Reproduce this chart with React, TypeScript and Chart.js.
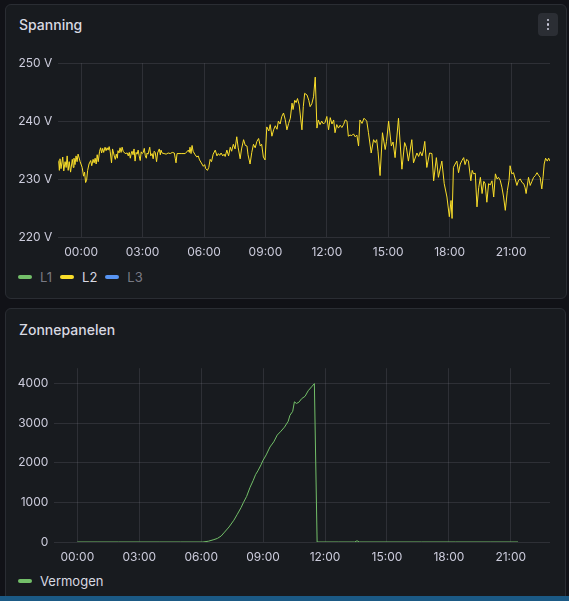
import { useEffect, useRef } from 'react';
import Chart from 'chart.js/auto';

// time axis: minutes relative to midnight, last 24h window
const rangeStart = -67;
const rangeEnd = 1374;
const hourTicks = [0, 180, 360, 540, 720, 900, 1080, 1260];

const voltTicks = [220, 230, 240, 250];
const wattTicks = [0, 1000, 2000, 3000, 4000];

// Spanning L2 (V)
const voltMinutes = [
  -67, -64, -62, -59, -54, -51, -47, -44, -41, -38,
  -35, -31, -26, -23, -21, -18, -15, -12, -9, -3,
  3, 7, 10, 13, 16, 19, 23, 28, 31, 35,
  38, 41, 44, 47, 50, 54, 57, 60, 63, 66,
  70, 73, 76, 79, 82, 85, 89, 92, 97, 100,
  103, 106, 108, 111, 114, 117, 120, 123, 129, 135,
  138, 141, 144, 147, 149, 152, 155, 158, 161, 164,
  167, 170, 173, 176, 179, 182, 185, 188, 191, 193,
  196, 201, 204, 208, 211, 214, 217, 221, 224, 229,
  232, 234, 237, 243, 249, 255, 261, 267, 273, 276,
  278, 281, 293, 305, 314, 317, 319, 322, 325, 328,
  334, 339, 343, 347, 354, 358, 362, 365, 370, 374,
  378, 382, 387, 393, 398, 402, 406, 410, 415, 419,
  422, 427, 432, 437, 441, 446, 451, 456, 460, 466,
  470, 476, 481, 486, 489, 495, 500, 505, 510, 515,
  520, 525, 529, 534, 539, 544, 550, 554, 559, 564,
  569, 574, 578, 583, 588, 593, 598, 603, 608, 613,
  618, 621, 626, 630, 634, 639, 647, 651, 655, 662,
  667, 671, 676, 681, 686, 691, 695, 700, 705, 710,
  715, 720, 725, 730, 735, 740, 744, 749, 754, 759,
  764, 769, 774, 779, 783, 788, 793, 798, 803, 808,
  813, 817, 823, 829, 837, 842, 850, 857, 862, 866,
  870, 876, 883, 891, 895, 901, 909, 914, 920, 930,
  940, 948, 953, 959, 969, 974, 984, 989, 994, 999,
  1003, 1007, 1013, 1021, 1028, 1033, 1041, 1047, 1057, 1064,
  1072, 1079, 1084, 1087, 1091, 1096, 1101, 1106, 1111, 1116,
  1121, 1125, 1130, 1135, 1142, 1146, 1150, 1155, 1160, 1165,
  1170, 1175, 1180, 1184, 1189, 1194, 1199, 1204, 1209, 1214,
  1219, 1223, 1228, 1233, 1238, 1243, 1249, 1254, 1257, 1262,
  1267, 1272, 1277, 1282, 1287, 1292, 1297, 1301, 1304, 1311,
  1316, 1321, 1326, 1331, 1336, 1341, 1345, 1350, 1354, 1357,
  1361, 1366, 1370, 1374,
];
const voltL2 = [
  233.2, 231.5, 233.5, 231.8, 233.8, 231.4, 233.0, 232.0, 234.0, 231.5,
  233.0, 231.2, 233.4, 232.0, 233.6, 232.5, 234.0, 233.0, 234.3, 233.0,
  232.0, 230.5, 231.2, 229.4, 229.8, 231.5, 232.6, 233.2, 232.3, 233.4,
  232.8, 233.6, 232.6, 234.2, 233.0, 234.8, 235.4, 234.5, 235.3, 234.6,
  235.5, 234.9, 235.4, 235.0, 235.6, 234.8, 232.8, 235.2, 234.0, 233.4,
  234.3, 233.6, 234.9, 234.5, 235.4, 234.6, 235.5, 234.8, 234.4, 234.5,
  234.0, 234.6, 233.6, 234.5, 234.8, 234.2, 235.2, 233.1, 234.6, 234.3,
  235.0, 234.0, 233.2, 234.7, 234.4, 234.6, 235.3, 234.0, 233.6, 234.5,
  234.3, 235.5, 234.0, 234.4, 233.5, 234.8, 234.6, 233.0, 234.5, 235.2,
  234.2, 235.0, 234.5, 234.4, 234.3, 234.5, 234.4, 234.6, 234.5, 233.5,
  232.8, 234.4, 234.4, 234.4, 235.0, 234.6, 235.5, 234.4, 235.8, 234.8,
  234.2, 233.8, 234.0, 233.3, 232.6, 232.2, 232.5, 231.8, 231.5, 232.0,
  233.4, 233.0, 234.3, 235.0, 234.0, 234.4, 234.1, 234.5, 234.0, 234.3,
  233.9, 235.0, 234.0, 235.5, 234.8, 236.0, 235.2, 237.3, 235.5, 233.5,
  235.2, 236.8, 235.8, 235.7, 234.2, 232.6, 234.6, 236.0, 235.4, 236.5,
  237.0, 235.7, 236.0, 233.8, 233.3, 239.0, 238.3, 239.4, 237.4, 238.5,
  239.2, 238.6, 240.0, 239.5, 240.8, 241.4, 240.3, 238.5, 239.6, 240.5,
  243.1, 242.0, 243.6, 243.2, 243.9, 242.8, 238.5, 242.5, 244.8, 244.5,
  243.6, 242.5, 243.0, 244.2, 247.6, 238.8, 240.2, 239.4, 240.0, 239.5,
  239.8, 240.8, 238.5, 240.6, 239.5, 240.2, 238.0, 239.4, 238.8, 239.3,
  238.9, 239.4, 240.2, 240.0, 237.4, 237.6, 237.5, 237.8, 237.3, 237.6,
  235.7, 240.2, 239.6, 240.5, 240.0, 238.0, 234.5, 236.8, 236.3, 236.8,
  234.8, 230.6, 238.0, 235.1, 236.5, 240.0, 235.7, 236.4, 233.7, 240.5,
  231.7, 236.3, 235.5, 233.1, 236.8, 232.8, 234.5, 233.9, 234.7, 234.0,
  235.0, 236.5, 232.0, 234.5, 234.4, 229.7, 233.7, 230.3, 233.1, 229.2,
  226.9, 223.5, 226.3, 223.2, 232.0, 232.6, 233.1, 231.1, 232.6, 233.2,
  233.7, 232.5, 233.4, 233.1, 229.7, 231.5, 230.9, 231.0, 225.2, 228.5,
  230.3, 227.5, 229.6, 229.2, 226.0, 229.2, 229.0, 229.7, 226.9, 230.9,
  230.0, 230.3, 229.8, 228.6, 226.9, 224.6, 228.0, 229.8, 232.3, 230.9,
  231.1, 230.0, 228.9, 229.8, 230.0, 229.4, 229.2, 228.5, 227.5, 230.3,
  228.9, 229.6, 230.3, 230.6, 231.1, 230.6, 230.3, 228.3, 230.5, 232.6,
  233.6, 233.1, 233.6, 233.1,
];

// Zonnepanelen vermogen (W)
const solarMinutes = [
  0, 60, 120, 180, 240, 300, 365, 381, 397, 407,
  418, 428, 441, 455, 465, 476, 483, 492, 502, 511,
  518, 525, 534, 539, 549, 560, 571, 581, 592, 602,
  613, 618, 626, 631, 637, 644, 652, 662, 671, 681,
  689, 697, 760, 806, 813, 820, 900, 1000, 1100, 1200,
  1281,
];
const solarWatts = [
  0, 0, 0, 0, 0, 0, 0, 20, 60, 90,
  150, 250, 380, 550, 700, 870, 1000, 1150, 1380, 1550,
  1700, 1800, 1950, 2050, 2200, 2400, 2530, 2700, 2800, 2900,
  3050, 3200, 3300, 3540, 3500, 3530, 3620, 3680, 3820, 3920,
  4000, 0, 0, 0, 30, 0, 0, 0, 0, 0,
  0,
];

const TEXT = 'rgb(204, 204, 220)';
const GRID = 'rgba(204, 204, 220, 0.12)';
const FONT = 'Inter, "Noto Sans", sans-serif';

const pad2 = (n: number) => String(n).padStart(2, '0');
const fmtTime = (m: number) => {
  const t = ((m % 1440) + 1440) % 1440;
  return `${pad2(Math.floor(t / 60))}:${pad2(t % 60)}`;
};

function axisOptions(yTicks: number[], yMin: number, yMax: number, yWidth: number, yLabel: (v: number) => string) {
  return {
    x: {
      type: 'linear' as const,
      min: rangeStart,
      max: rangeEnd,
      afterBuildTicks: (axis: any) => {
        axis.ticks = hourTicks.map((value) => ({ value }));
      },
      afterFit: (scale: any) => {
        scale.height = 28;
      },
      grid: { color: GRID, drawTicks: false, lineWidth: 1 },
      border: { display: false },
      ticks: {
        color: TEXT,
        font: { family: FONT, size: 12 },
        padding: 8,
        maxRotation: 0,
        autoSkip: false,
        callback: (v: any) => fmtTime(Number(v)),
      },
    },
    y: {
      type: 'linear' as const,
      min: yMin,
      max: yMax,
      afterBuildTicks: (axis: any) => {
        axis.ticks = yTicks.map((value) => ({ value }));
      },
      afterFit: (scale: any) => {
        scale.width = yWidth;
      },
      grid: { color: GRID, drawTicks: false, lineWidth: 1 },
      border: { display: false },
      ticks: {
        color: TEXT,
        font: { family: FONT, size: 12 },
        padding: 6,
        callback: (v: any) => yLabel(Number(v)),
      },
    },
  };
}

function VoltageChart() {
  const canvasRef = useRef<HTMLCanvasElement | null>(null);
  const chartRef = useRef<Chart | null>(null);

  useEffect(() => {
    const ctx = canvasRef.current?.getContext('2d');
    if (!ctx) return;
    if (chartRef.current) chartRef.current.destroy();

    chartRef.current = new Chart(ctx, {
      type: 'line',
      data: {
        datasets: [
          { label: 'L1', data: [], borderColor: '#73bf69', hidden: true },
          {
            label: 'L2',
            data: voltMinutes.map((x, i) => ({ x, y: voltL2[i] })),
            borderColor: '#fade2a',
            borderWidth: 1,
          },
          { label: 'L3', data: [], borderColor: '#5794f2', hidden: true },
        ],
      },
      options: {
        animation: false,
        responsive: true,
        maintainAspectRatio: false,
        layout: { padding: { top: 11, right: 10, left: 0, bottom: 0 } },
        elements: { point: { radius: 0 }, line: { borderWidth: 1, tension: 0 } },
        plugins: { legend: { display: false }, tooltip: { enabled: false } },
        scales: axisOptions(voltTicks, 220, 250, 48.3, (v) => `${v} V`),
      },
    });

    return () => {
      if (chartRef.current) chartRef.current.destroy();
      chartRef.current = null;
    };
  }, []);

  return <canvas ref={canvasRef} />;
}

function SolarChart() {
  const canvasRef = useRef<HTMLCanvasElement | null>(null);
  const chartRef = useRef<Chart | null>(null);

  useEffect(() => {
    const ctx = canvasRef.current?.getContext('2d');
    if (!ctx) return;
    if (chartRef.current) chartRef.current.destroy();

    chartRef.current = new Chart(ctx, {
      type: 'line',
      data: {
        datasets: [
          {
            label: 'Vermogen',
            data: solarMinutes.map((x, i) => ({ x, y: solarWatts[i] })),
            borderColor: '#73bf69',
            borderWidth: 1,
          },
        ],
      },
      options: {
        animation: false,
        responsive: true,
        maintainAspectRatio: false,
        layout: { padding: { top: 11, right: 10, left: 0, bottom: 0 } },
        elements: { point: { radius: 0 }, line: { borderWidth: 1, tension: 0 } },
        plugins: { legend: { display: false }, tooltip: { enabled: false } },
        scales: axisOptions(wattTicks, 0, 4390, 44.3, (v) => `${v}`),
      },
    });

    return () => {
      if (chartRef.current) chartRef.current.destroy();
      chartRef.current = null;
    };
  }, []);

  return <canvas ref={canvasRef} />;
}

const panelStyle: React.CSSProperties = {
  position: 'absolute',
  background: '#181b1f',
  border: '1px solid #2a2d33',
  borderRadius: 6,
  boxSizing: 'border-box',
};

const titleStyle: React.CSSProperties = {
  position: 'absolute',
  left: 13,
  fontSize: 14,
  fontWeight: 500,
  color: '#d8d9e2',
  lineHeight: '16px',
};

function LegendItem({ color, label, active }: { color: string; label: string; active: boolean }) {
  return (
    <div style={{ display: 'flex', alignItems: 'center', marginRight: 8 }}>
      <div style={{ width: 14, height: 4, borderRadius: 2, background: color, marginRight: 8 }} />
      <span style={{ fontSize: 13, color: active ? '#d8d9e2' : 'rgba(204,204,220,0.55)' }}>{label}</span>
    </div>
  );
}

export default function App() {
  return (
    <div
      style={{
        position: 'fixed',
        left: 0,
        top: 0,
        width: 569,
        height: 601,
        background: '#111217',
        overflow: 'hidden',
        fontFamily: FONT,
      }}
    >
      <div style={{ ...panelStyle, left: 5, top: 4, width: 562, height: 295 }}>
        <div style={{ ...titleStyle, top: 12 }}>Spanning</div>
        <div
          style={{
            position: 'absolute',
            left: 532,
            top: 8,
            width: 20,
            height: 23,
            borderRadius: 4,
            background: '#2b2e34',
            display: 'flex',
            flexDirection: 'column',
            alignItems: 'center',
            justifyContent: 'center',
            gap: 2,
          }}
        >
          {[0, 1, 2].map((i) => (
            <div key={i} style={{ width: 2.5, height: 2.5, borderRadius: 2, background: '#ccccdc' }} />
          ))}
        </div>
      </div>
      <div style={{ position: 'absolute', left: 10, top: 50, width: 550, height: 215 }}>
        <VoltageChart />
      </div>
      <div style={{ position: 'absolute', left: 18, top: 269, height: 16, display: 'flex', alignItems: 'center' }}>
        <LegendItem color="#73bf69" label="L1" active={false} />
        <LegendItem color="#fade2a" label="L2" active={true} />
        <LegendItem color="#5794f2" label="L3" active={false} />
      </div>

      <div style={{ ...panelStyle, left: 5, top: 308, width: 561, height: 300 }}>
        <div style={{ ...titleStyle, top: 13 }}>Zonnepanelen</div>
      </div>
      <div style={{ position: 'absolute', left: 10, top: 355, width: 550, height: 215 }}>
        <SolarChart />
      </div>
      <div style={{ position: 'absolute', left: 18, top: 573, height: 16, display: 'flex', alignItems: 'center' }}>
        <LegendItem color="#73bf69" label="Vermogen" active={true} />
      </div>

      <div style={{ position: 'absolute', left: 0, top: 596, width: 569, height: 5, background: '#1b5a85' }} />
    </div>
  );
}
